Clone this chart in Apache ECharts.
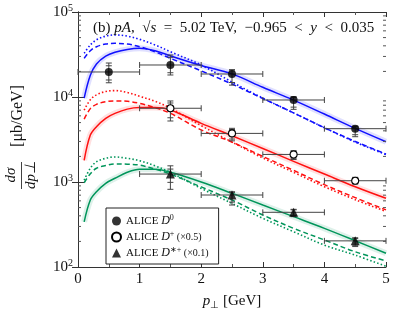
<!DOCTYPE html>
<html><head><meta charset="utf-8">
<script src="https://cdn.jsdelivr.net/npm/echarts@6/dist/echarts.min.js"></script>
<style>html,body{margin:0;padding:0;background:#fff}#c{width:395px;height:318px}</style>
</head><body><div id="c"></div>
<script>
// ---- data ----
const pT = [0.1,0.2,0.3,0.45,0.6,0.8,1.0,1.25,1.5,2,2.5,3,3.5,4,4.5,5];
const blueSolid  = [9700,18000,24500,30300,33600,36300,37400,35000,30500,23500,18700,13000,9200,6300,4280,2980];
const blueDashed = [28500,35000,39000,42000,42800,42000,39100,34000,28500,20300,14200,9600,6500,4350,3000,2130];
const blueDotted = [32700,41000,47000,52000,53700,52000,47700,41000,34100,23800,15000,9700,6500,4350,2950,2100];
const redSolid   = [1800,3570,4480,5620,6420,7200,7500,7500,7030,4900,3500,2480,1750,1240,880,643];
const redDashed  = [5500,7300,8200,8800,8980,8900,8420,7500,6420,4100,2950,2000,1370,930,655,470];
const redDotted  = [7000,9300,10600,11600,11900,11300,10200,8900,7400,4600,2950,1920,1300,880,620,450];
const greenSolid = [340,614,769,966,1106,1300,1410,1410,1300,1000,736,536,391,285,204,145];
const greenDashed= [980,1250,1450,1560,1630,1620,1580,1420,1240,875,614,409,285,208,151,118];
const greenDotted= [1050,1450,1730,1900,1970,1900,1780,1550,1300,840,561,374,260,181,138,102];

const dataX   = [0.5,1.5,2.5,3.5,4.5];
const dataXerr= [0.5,0.5,0.5,0.5,0.5];
const D0_y    = [19700,23800,18650,9220,4240];
const D0_tot  = [[14700,25100],[18150,31200],[13800,21000],[7160,10100],[3410,4540]];
const D0_stat = [[15850,23300],[19300,29300],[14800,20300],[7600,9900],[3600,4450]];
const Dp_x    = [1.5,2.5,3.5,4.5];
const Dp_y    = [7370,3730,2110,1035];
const Dp_tot  = [[5220,8980],[3050,4280],[1840,2340],[945,1135]];
const Dp_stat = [[5700,8500],[3200,4150],[1900,2280],[970,1110]];
const Ds_x    = [1.5,2.5,3.5,4.5];
const Ds_y    = [1240,703,440,203];
const Ds_tot  = [[820,1550],[536,768],[391,477],[174,221]];
const Ds_stat = [[990,1420],[580,750],[405,470],[180,216]];
const yMinorTicks = [200,300,400,500,600,700,800,900,2000,3000,4000,5000,6000,7000,8000,9000,
  20000,30000,40000,50000,60000,70000,80000,90000];

// ---- styles ----
const SERIF = 'Liberation Serif';
const BLUE = '#1010ff', RED = '#ff1010', GREEN = '#00955a';

function curve(name, arr, color, type, width, opacity) {
  return {
    name: name, type: 'line', smooth: 0.35, showSymbol: false, silent: true,
    data: pT.map((x, i) => [x, arr[i]]),
    lineStyle: { color: color, width: width, type: type, opacity: opacity, cap: 'butt' },
    z: 2
  };
}
function errSeries(xs, ys, tot, stat, xerr) {
  return {
    type: 'custom', silent: true, z: 3,
    data: xs.map((x, i) => [x, ys[i], tot[i][0], tot[i][1], stat[i][0], stat[i][1], xerr[i]]),
    renderItem: function (params, api) {
      const x = api.value(0), y = api.value(1), xe = api.value(6);
      const pc = api.coord([x, y]);
      const pl = api.coord([x - xe, y]), pr = api.coord([x + xe, y]);
      const t1 = api.coord([x, api.value(3)]), b1 = api.coord([x, api.value(2)]);
      const t2 = api.coord([x, api.value(5)]), b2 = api.coord([x, api.value(4)]);
      const st = { stroke: '#444', lineWidth: 1, fill: null };
      const L = (x1, y1, x2, y2) => ({ type: 'line', shape: { x1, y1, x2, y2 }, style: st });
      const c = 3;
      return { type: 'group', children: [
        L(pl[0], pc[1], pr[0], pc[1]),
        L(pl[0], pc[1] - c, pl[0], pc[1] + c),
        L(pr[0], pc[1] - c, pr[0], pc[1] + c),
        L(pc[0], t1[1], pc[0], b1[1]),
        L(pc[0] - c, t1[1], pc[0] + c, t1[1]),
        L(pc[0] - c, b1[1], pc[0] + c, b1[1]),
        L(pc[0] - c, t2[1], pc[0] + c, t2[1]),
        L(pc[0] - c, b2[1], pc[0] + c, b2[1])
      ]};
    }
  };
}

const chart = echarts.init(document.getElementById('c'), null, { renderer: 'canvas' });
const axisLine = { show: true, lineStyle: { color: '#333', width: 1 } };
const xCommon = {
  type: 'value', min: 0, max: 5, interval: 1,
  axisLine: axisLine, splitLine: { show: false },
  axisTick: { inside: true, length: 5, lineStyle: { color: '#333' } },
  minorTick: { show: true, splitNumber: 2, length: 3, lineStyle: { color: '#555' } }
};
const yCommon = {
  type: 'log', logBase: 10, min: 100, max: 100000,
  axisLine: axisLine, splitLine: { show: false },
  axisTick: { inside: true, length: 6, lineStyle: { color: '#333' } }
};

const option = {
  animation: false,
  backgroundColor: '#fff',
  grid: { left: 78, right: 9, top: 12, bottom: 51, outerBoundsMode: 'none' },
  title: {
    left: 88, top: 16,
    text: '{n|(b) }{i|pA}{n|,  √}{i|s}{n|  =  5.02 TeV,  −0.965  <  }{i|y}{n|  <  0.035}',
    textStyle: { fontWeight: 'normal', rich: {
      n: { fontFamily: SERIF, fontSize: 15, fontWeight: 'normal', color: '#111' },
      i: { fontFamily: SERIF, fontSize: 15, fontWeight: 'normal', fontStyle: 'italic', color: '#111' }
    } }
  },
  xAxis: [
    Object.assign({}, xCommon, {
      position: 'bottom',
      axisLabel: { fontFamily: SERIF, fontSize: 15, color: '#111', margin: 5 },
      name: '{i|p}{s|⊥}{n| [GeV]}', nameLocation: 'middle', nameGap: 25,
      nameTextStyle: { rich: {
        i: { fontFamily: SERIF, fontSize: 15, fontStyle: 'italic', color: '#111' },
        s: { fontFamily: SERIF, fontSize: 10, color: '#111', padding: [8, 0, 0, 0] },
        n: { fontFamily: SERIF, fontSize: 15, color: '#111' }
      } }
    }),
    Object.assign({}, xCommon, { position: 'top', axisLabel: { show: false } })
  ],
  yAxis: [
    Object.assign({}, yCommon, {
      position: 'left',
      axisLabel: {
        margin: 5,
        formatter: v => '{b|10}{s|' + Math.round(Math.log10(v)) + '}',
        rich: {
          b: { fontFamily: SERIF, fontSize: 15, color: '#111' },
          s: { fontFamily: SERIF, fontSize: 10, color: '#111', padding: [0, 0, 8, 0] }
        }
      }
    }),
    Object.assign({}, yCommon, { position: 'right', axisLabel: { show: false } })
  ],
  legend: {
    orient: 'vertical', left: 106, top: 208,
    borderColor: '#222', borderWidth: 1, borderRadius: 0,
    padding: [6, 10, 5, 5], itemGap: 3, itemWidth: 9, itemHeight: 9,
    backgroundColor: '#fff',
    data: ['D0', 'Dp', 'Ds'],
    formatter: function (n) {
      if (n === 'D0') return '{t|ALICE }{i|D}{s|0}';
      if (n === 'Dp') return '{t|ALICE }{i|D}{s|+}{m| (×0.5)}';
      return '{t|ALICE }{i|D}{s|∗+}{m| (×0.1)}';
    },
    textStyle: { rich: {
      t: { fontFamily: SERIF, fontSize: 11, color: '#111' },
      i: { fontFamily: SERIF, fontSize: 12, fontStyle: 'italic', color: '#111' },
      s: { fontFamily: SERIF, fontSize: 8, color: '#111', padding: [0, 0, 6, 0] },
      m: { fontFamily: SERIF, fontSize: 10, color: '#111' }
    } }
  },
  graphic: [
    { type: 'text', x: 18, y: 116, rotation: Math.PI / 2,
      style: { text: '[μb/GeV]', font: '16px "Liberation Serif"', fill: '#111', align: 'center', verticalAlign: 'middle' } },
    { type: 'text', x: 11, y: 175, rotation: Math.PI / 2,
      style: { text: 'dσ', font: 'italic 15px "Liberation Serif"', fill: '#111', align: 'center', verticalAlign: 'middle' } },
    { type: 'line', shape: { x1: 21.5, y1: 162, x2: 21.5, y2: 189 }, style: { stroke: '#111', lineWidth: 0.8 } },
    { type: 'text', x: 31, y: 175, rotation: Math.PI / 2,
      style: { text: 'dp⊥', font: 'italic 15px "Liberation Serif"', fill: '#111', align: 'center', verticalAlign: 'middle' } }
  ],
  series: [
    curve('bb', blueSolid, BLUE, 'solid', 6, 0.13),
    curve('rb', redSolid, RED, 'solid', 6, 0.13),
    curve('gb', greenSolid, GREEN, 'solid', 6, 0.13),
    curve('bs', blueSolid, BLUE, 'solid', 1.5, 1),
    curve('bd', blueDashed, BLUE, [5, 3], 1.5, 1),
    curve('bo', blueDotted, BLUE, [1.5, 2.2], 1.6, 1),
    curve('rs', redSolid, RED, 'solid', 1.5, 1),
    curve('rd', redDashed, RED, [5, 3], 1.5, 1),
    curve('ro', redDotted, RED, [1.5, 2.2], 1.6, 1),
    curve('gs', greenSolid, GREEN, 'solid', 1.5, 1),
    curve('gd', greenDashed, GREEN, [5, 3], 1.5, 1),
    curve('go', greenDotted, GREEN, [1.5, 2.2], 1.6, 1),
    errSeries(dataX, D0_y, D0_tot, D0_stat, dataXerr),
    errSeries(Dp_x, Dp_y, Dp_tot, Dp_stat, dataXerr),
    errSeries(Ds_x, Ds_y, Ds_tot, Ds_stat, dataXerr),
    { name: 'D0', type: 'scatter', symbol: 'circle', symbolSize: 8, z: 4,
      data: dataX.map((x, i) => [x, D0_y[i]]), itemStyle: { color: '#000' } },
    { name: 'Dp', type: 'scatter', symbol: 'circle', symbolSize: 7, z: 4,
      data: Dp_x.map((x, i) => [x, Dp_y[i]]),
      itemStyle: { color: '#fff', borderColor: '#000', borderWidth: 1.1, opacity: 1 } },
    { name: 'Ds', type: 'scatter', symbol: 'triangle', symbolSize: 9, z: 4,
      data: Ds_x.map((x, i) => [x, Ds_y[i]]), itemStyle: { color: '#000' } },
    { type: 'custom', silent: true, z: 5,
      data: yMinorTicks.map(v => [0, v]),
      renderItem: function (params, api) {
        const l = api.coord([0, api.value(1)]), r = api.coord([5, api.value(1)]);
        const st = { stroke: '#555', lineWidth: 1 };
        return { type: 'group', children: [
          { type: 'line', shape: { x1: l[0], y1: l[1], x2: l[0] + 3, y2: l[1] }, style: st },
          { type: 'line', shape: { x1: r[0], y1: r[1], x2: r[0] - 3, y2: r[1] }, style: st }
        ]};
      }
    }
  ]
};
chart.setOption(option);
</script></body></html>
